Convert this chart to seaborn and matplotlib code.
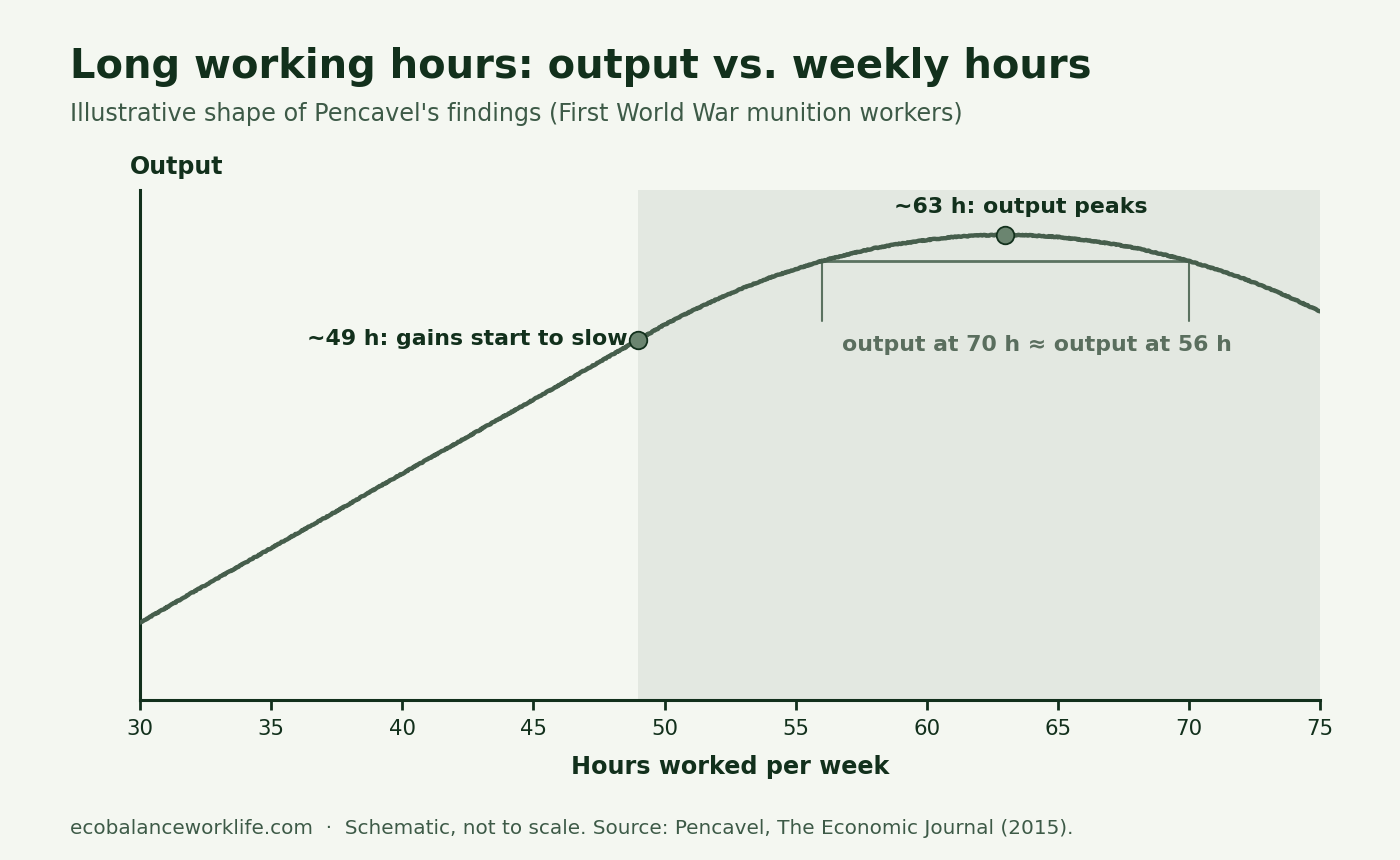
import matplotlib
matplotlib.use("Agg")
import matplotlib.pyplot as plt
import seaborn as sns
import pandas as pd

# Dados (escala de saída arbitrária 0-100)
horas = list(range(30, 76))
saida = [15.2, 18.1, 21.1, 24.0, 26.9, 29.8, 32.7, 35.6, 38.5, 41.5,
         44.4, 47.3, 50.2, 53.1, 56.0, 58.9, 61.8, 64.8, 67.7, 70.6,
         73.6, 76.2, 78.6, 80.8, 82.8, 84.5, 86.1, 87.4, 88.6, 89.5,
         90.2, 90.8, 91.1, 91.2, 91.1, 90.8, 90.2, 89.5, 88.6, 87.4,
         86.1, 84.5, 82.8, 80.8, 78.6, 76.2]
ponto_lento = 49
ponto_pico = 63
horas_iguais = [56, 70]
xticks = [30, 35, 40, 45, 50, 55, 60, 65, 70, 75]

BG = "#f4f7f1"
SOMBRA = "#e3e8e1"
ESCURO = "#12301c"
LINHA = "#465e4c"
MARCADOR = "#6b8570"
CINZA = "#5a6e5e"
SUB = "#3d5a47"

df = pd.DataFrame({"horas": horas, "saida": saida})
valor = dict(zip(horas, saida))

sns.set_theme(style="white")
plt.rcParams["font.family"] = ["DejaVu Sans"]

fig = plt.figure(figsize=(14, 8.6), dpi=100, facecolor=BG)
ax = fig.add_axes([0.1, 0.186, 0.843, 0.593])
ax.set_facecolor(BG)

ax.axvspan(ponto_lento, 75, color=SOMBRA, zorder=0, lw=0)

sns.lineplot(data=df, x="horas", y="saida", ax=ax, color=LINHA, lw=3.2, zorder=3)
ax.lines[-1].set_sketch_params(scale=0.4, length=3, randomness=8)

# marcadores
ax.scatter([ponto_lento, ponto_pico], [valor[ponto_lento], valor[ponto_pico]],
           s=160, color=MARCADOR, edgecolor=ESCURO, linewidth=1.3, zorder=5)

# colchete 56 h / 70 h
y_eq = valor[horas_iguais[0]]
ax.plot(horas_iguais, [y_eq, y_eq], color="#5b7260", lw=2, zorder=2)
for h in horas_iguais:
    ax.plot([h, h], [y_eq, y_eq - 11.8], color="#5b7260", lw=1.5, zorder=2)

ax.text(ponto_pico + 0.6, valor[ponto_pico] + 5.5, "~63 h: output peaks",
        ha="center", va="center", fontsize=15.8, fontweight="bold", color=ESCURO)
ax.text(ponto_lento - 0.4, valor[ponto_lento] + 0.2, "~49 h: gains start to slow",
        ha="right", va="center", fontsize=15.8, fontweight="bold", color=ESCURO)
ax.text(64.2, valor[ponto_lento] - 1.0, "output at 70 h \u2248 output at 56 h",
        ha="center", va="center", fontsize=15.8, fontweight="bold", color=CINZA)

ax.set_xlim(30, 75)
ax.set_ylim(0, 100)
ax.set_xticks(xticks)
ax.set_yticks([])
ax.tick_params(axis="x", length=7, width=2, color=ESCURO, labelsize=15.3,
               labelcolor=ESCURO, pad=7, bottom=True)
for lado in ["top", "right"]:
    ax.spines[lado].set_visible(False)
for lado in ["left", "bottom"]:
    ax.spines[lado].set_color(ESCURO)
    ax.spines[lado].set_linewidth(2.2)

ax.set_xlabel("Hours worked per week", fontsize=17.2, fontweight="bold",
              color=ESCURO, labelpad=11)
ax.set_ylabel("")

fig.text(0.05, 0.922, "Long working hours: output vs. weekly hours",
         fontsize=28.8, fontweight="bold", color=ESCURO, va="center")
fig.text(0.05, 0.868, "Illustrative shape of Pencavel's findings (First World War munition workers)",
         fontsize=17.2, color=SUB, va="center")
fig.text(0.093, 0.806, "Output", fontsize=17.1, fontweight="bold", color=ESCURO, va="center")
fig.text(0.05, 0.037,
         "ecobalanceworklife.com  \u00b7  Schematic, not to scale. Source: Pencavel, The Economic Journal (2015).",
         fontsize=14.4, color=SUB, va="center")

fig.savefig("out.png", dpi=100, facecolor=BG)
